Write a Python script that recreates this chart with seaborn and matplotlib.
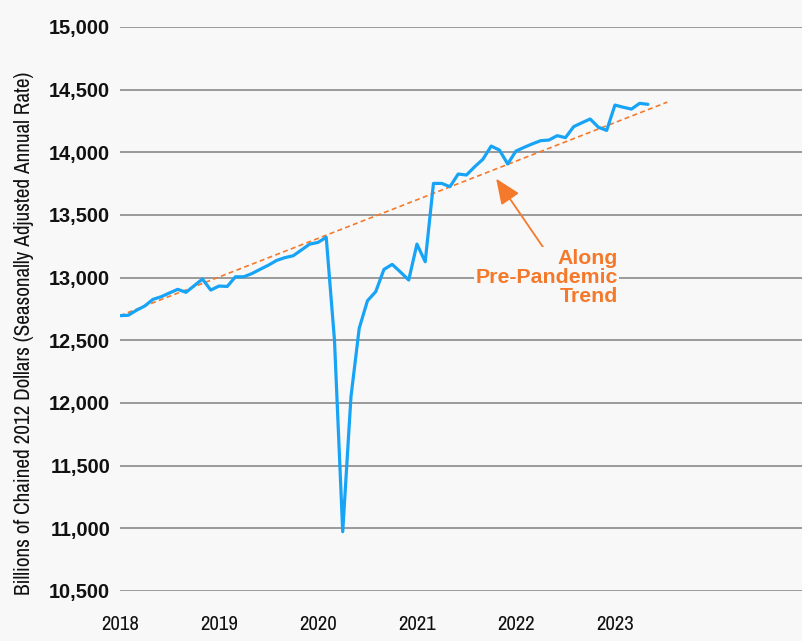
import numpy as np
import pandas as pd
import matplotlib
matplotlib.use("Agg")
import matplotlib.pyplot as plt
import seaborn as sns
from matplotlib import font_manager
from matplotlib.font_manager import FontProperties

# ---------------- data ----------------
start_year = 2018
values_2018 = [12697, 12700, 12740, 12774, 12827, 12848, 12878, 12907, 12883, 12936, 12989, 12901]
values_2019 = [12933, 12930, 13007, 13007, 13033, 13067, 13100, 13138, 13160, 13175, 13221, 13268]
values_2020 = [13281, 13322, 12502, 10973, 12050, 12596, 12816, 12888, 13066, 13106, 13045, 12981]
values_2021 = [13268, 13127, 13752, 13752, 13726, 13827, 13819, 13885, 13945, 14050, 14018, 13907]
values_2022 = [14010, 14040, 14068, 14093, 14098, 14133, 14117, 14205, 14236, 14266, 14200, 14175]
values_2023 = [14377, 14360, 14345, 14391, 14383]

trend_x = [2018.0, 2023.53]
trend_y = [12697, 14401]

y_ticks = [10500, 11000, 11500, 12000, 12500, 13000, 13500, 14000, 14500, 15000]
x_ticks = [2018, 2019, 2020, 2021, 2022, 2023]

annotation_text = "Along\nPre-Pandemic\nTrend"
y_label = "Billions of Chained 2012 Dollars (Seasonally Adjusted Annual Rate)"

values = values_2018 + values_2019 + values_2020 + values_2021 + values_2022 + values_2023
dates = [start_year + i / 12 for i in range(len(values))]
df = pd.DataFrame({"date": dates, "value": values})
trend_df = pd.DataFrame({"date": trend_x, "value": trend_y})

# ---------------- style ----------------
sns.set_theme(style="white")
plt.rcParams["font.family"] = ["Liberation Sans", "DejaVu Sans"]


def find_narrow():
    best = None
    for f in font_manager.fontManager.ttflist:
        name = f.name.lower()
        fn = f.fname.lower()
        if "mono" in name or "serif" in name and "sans" not in name:
            continue
        cond = ("narrow" in name or "narrow" in fn or "condensed" in name
                or "condensed" in fn or str(f.stretch) in ("condensed", "semi-condensed",
                                                            "extra-condensed", "ultra-condensed"))
        if not cond:
            continue
        if f.weight not in ("normal", "regular", 400, "book"):
            continue
        if f.style != "normal":
            continue
        score = 0
        if "liberation" in name:
            score += 3
        if "narrow" in name or "narrow" in fn:
            score += 2
        if best is None or score > best[0]:
            best = (score, f.fname)
    return best[1] if best else None


narrow_file = find_narrow()
if narrow_file:
    narrow_fp = FontProperties(fname=narrow_file)
else:
    narrow_fp = FontProperties(family="Liberation Sans")

BG = "#f8f8f8"
BLUE = "#18a4f6"
ORANGE = "#f5792a"
GRID = "#9a9a9a"

fig = plt.figure(figsize=(8.03, 6.41), dpi=100, facecolor=BG)
ax = fig.add_axes([120 / 803, 1 - 591 / 641, 1 - 120 / 803, (591 - 27) / 641])
ax.set_facecolor(BG)

for yv in y_ticks:
    ax.axhline(yv, color=GRID, lw=1.4, zorder=1)

sns.lineplot(data=trend_df, x="date", y="value", ax=ax, color=ORANGE,
             lw=1.2, zorder=3)
ax.lines[-1].set_dashes([3, 2])
sns.lineplot(data=df, x="date", y="value", ax=ax, color=BLUE, lw=2.3, zorder=4)

ax.set_xlim(2018, 2024.9)
ax.set_ylim(10500, 15000)
ax.set_yticks(y_ticks)
ax.set_yticklabels([f"{v:,}" for v in y_ticks], fontsize=14.4, fontweight="bold",
                   color="#111111")
ax.set_xticks(x_ticks)
ax.set_xticklabels([str(x) for x in x_ticks], color="#111111")
for lbl in ax.get_xticklabels():
    lbl.set_fontproperties(narrow_fp)
    lbl.set_fontsize(15)
ax.tick_params(axis="y", length=0, pad=7)
ax.tick_params(axis="x", direction="inout", length=20, width=1.1, color=GRID, pad=7)
for s in ["top", "right", "left", "bottom"]:
    ax.spines[s].set_visible(False)
ax.set_xlabel("")
ax.set_ylabel("")

ax.annotate("", xy=(2021.80, 13790), xytext=(2022.32, 13190),
            arrowprops=dict(arrowstyle="-|>,head_length=1.3,head_width=0.55",
                            color=ORANGE, lw=1.3, shrinkA=0, shrinkB=0), zorder=5)
ax.text(2023.03, 13005, annotation_text, ha="right", va="center", fontsize=15.3,
        fontweight="bold", color=ORANGE, linespacing=1.0, zorder=6,
        bbox=dict(facecolor=BG, edgecolor="none", pad=1))

ylab = fig.text(24 / 803, 1 - 333 / 641, y_label, rotation=90, ha="center", va="center",
                color="#111111", fontproperties=narrow_fp)
ylab.set_fontsize(13)

# fit sizes of narrow texts to the reference extents
fig.canvas.draw()
r = fig.canvas.get_renderer()
h = ylab.get_window_extent(r).height
ylab.set_fontsize(13 * 527 / h)
lbl0 = ax.get_xticklabels()[0]
w = lbl0.get_window_extent(r).width
fs_x = min(15 * 38 / w, 15)
for lbl in ax.get_xticklabels():
    lbl.set_fontsize(fs_x)

fig.savefig("out.png", dpi=100, facecolor=BG)
